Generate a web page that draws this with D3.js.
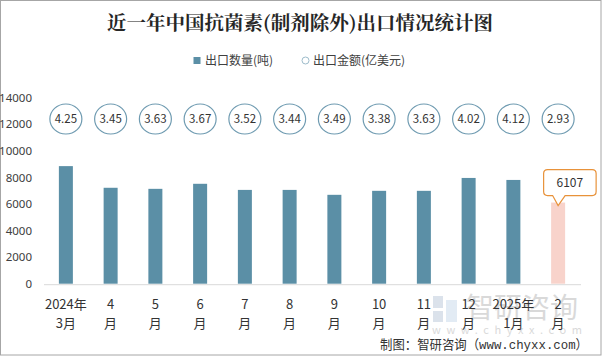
<!DOCTYPE html>
<html>
<head>
<meta charset="utf-8">
<script src="https://cdn.jsdelivr.net/npm/d3@7"></script>
<style>
  html, body { margin: 0; padding: 0; background: #fff; }
  svg { display: block; }
  text { font-family: "Microsoft YaHei", "Noto Sans CJK SC", "Noto Sans", sans-serif; }
</style>
</head>
<body>
<svg id="chart" width="602" height="356"></svg>
<script>
// ---- data ----
const categoriesTop = ["2024年", "4", "5", "6", "7", "8", "9", "10", "11", "12", "2025年", "2"];
const categoriesBottom = ["3月", "月", "月", "月", "月", "月", "月", "月", "月", "月", "1月", "月"];
const quantity = [8850, 7220, 7140, 7520, 7060, 7060, 6690, 6990, 6990, 7960, 7810, 6107];
const amount = [4.25, 3.45, 3.63, 3.67, 3.52, 3.44, 3.49, 3.38, 3.63, 4.02, 4.12, 2.93];
const yTicks = [0, 2000, 4000, 6000, 8000, 10000, 12000, 14000];
const highlightIndex = 11;
const title = "近一年中国抗菌素(制剂除外)出口情况统计图";
const legendLabels = ["出口数量(吨)", "出口金额(亿美元)"];
const sourceText = "制图：智研咨询（www.chyxx.com）";

// ---- layout ----
const W = 602, H = 356;
const plot = { left: 43.5, right: 580.5, top: 97.7, bottom: 283.7 };
const svg = d3.select("#chart");

svg.append("rect").attr("x", 0.5).attr("y", 0.5).attr("width", W - 1.5).attr("height", H - 1.5)
  .attr("fill", "#fff").attr("stroke", "#a6a6a6").attr("stroke-width", 1);

const idx = d3.range(categoriesTop.length);
const x = d3.scaleBand().domain(idx).range([plot.left, plot.right]).paddingInner(0).paddingOuter(0);
const y = d3.scaleLinear().domain([0, 14000]).range([plot.bottom, plot.top]);
const barW = 14;
const cx = i => x(i) + x.bandwidth() / 2;

// title
svg.append("text").attr("x", 300).attr("y", 30).attr("text-anchor", "middle")
  .attr("font-size", 19.5).attr("font-weight", "bold").attr("fill", "#262626")
  .style("font-family", "'Noto Serif CJK SC', 'Noto Sans CJK SC', serif")
  .text(title);

// legend
const lg = svg.append("g");
lg.append("rect").attr("x", 193.5).attr("y", 57).attr("width", 7).attr("height", 7).attr("fill", "#5b8fa6");
lg.append("text").attr("x", 205).attr("y", 65).attr("font-size", 12).attr("fill", "#404040").text(legendLabels[0]);
lg.append("circle").attr("cx", 305.5).attr("cy", 60.5).attr("r", 3.5).attr("fill", "#fff")
  .attr("stroke", "#9dbccb").attr("stroke-width", 1);
lg.append("text").attr("x", 313).attr("y", 65).attr("font-size", 12).attr("fill", "#404040").text(legendLabels[1]);

// y axis labels
const yAxis = d3.axisLeft(y).tickValues(yTicks).tickSize(0).tickPadding(0).tickFormat(d3.format("d"));
const yg = svg.append("g").attr("transform", "translate(32,0)").call(yAxis);
yg.select(".domain").remove();
yg.selectAll("text").attr("font-size", 11.5).attr("fill", "#404040")
  .style("font-family", "'Microsoft YaHei', 'Noto Sans', sans-serif");

// bars
svg.append("g").selectAll("rect").data(quantity).join("rect")
  .attr("x", (d, i) => cx(i) - barW / 2)
  .attr("y", d => y(d))
  .attr("width", barW)
  .attr("height", d => y(0) - y(d))
  .attr("fill", (d, i) => i === highlightIndex ? "#f8d3cb" : "#5b8fa6");

// baseline
const xAxis = d3.axisBottom(x).tickSize(0).tickFormat("");
const xg = svg.append("g").attr("transform", `translate(0,${plot.bottom + 0.5})`).call(xAxis);
xg.select(".domain").attr("stroke", "#d9d9d9").attr("stroke-width", 1);

// watermark (behind labels)
const wm = svg.append("g").attr("opacity", 0.5);
wm.append("rect").attr("x", 433).attr("y", 296).attr("width", 10).attr("height", 12).attr("fill", "#b8c6d8");
wm.append("rect").attr("x", 446).attr("y", 300).attr("width", 11).attr("height", 22).attr("fill", "#c6d9ea");
wm.append("rect").attr("x", 433).attr("y", 311).attr("width", 10).attr("height", 11).attr("fill", "#b8c6d8");
wm.append("text").attr("x", 466).attr("y", 318).attr("font-size", 28).attr("fill", "#b5b5b5").text("智研咨询");
wm.append("text").attr("x", 432).attr("y", 334).attr("font-size", 11).attr("fill", "#b5b5b5")
  .attr("textLength", 150).attr("lengthAdjust", "spacing").text("www.chyxx.com");

// x labels
const xl = svg.append("g");
xl.selectAll("text.top").data(categoriesTop).join("text").attr("class", "top")
  .attr("x", (d, i) => cx(i)).attr("y", 309).attr("text-anchor", "middle")
  .attr("font-size", 13).attr("fill", "#333").text(d => d);
xl.selectAll("text.bot").data(categoriesBottom).join("text").attr("class", "bot")
  .attr("x", (d, i) => cx(i)).attr("y", 328).attr("text-anchor", "middle")
  .attr("font-size", 13).attr("fill", "#333").text(d => d);

// amount circles
const cg = svg.append("g");
const circleY = 119;
cg.selectAll("ellipse").data(amount).join("ellipse")
  .attr("cx", (d, i) => cx(i)).attr("cy", circleY).attr("rx", 16).attr("ry", 15)
  .attr("fill", "#fff").attr("stroke", "#6f9bb1").attr("stroke-width", 1.2);
cg.selectAll("text").data(amount).join("text")
  .attr("x", (d, i) => cx(i)).attr("y", circleY + 4).attr("text-anchor", "middle")
  .attr("font-size", 11.5).attr("fill", "#333").text(d => d.toFixed(2));

// callout for highlighted bar
const tipX = cx(highlightIndex), tipY = y(quantity[highlightIndex]) + 3;
const bx0 = tipX - 14.5, bx1 = tipX + 38, by1 = tipY - 10, by0 = by1 - 26, r = 4;
const p = d3.path();
p.moveTo(bx0 + r, by0);
p.lineTo(bx1 - r, by0); p.quadraticCurveTo(bx1, by0, bx1, by0 + r);
p.lineTo(bx1, by1 - r); p.quadraticCurveTo(bx1, by1, bx1 - r, by1);
p.lineTo(tipX + 7, by1); p.lineTo(tipX, tipY); p.lineTo(tipX - 5.5, by1);
p.lineTo(bx0 + r, by1); p.quadraticCurveTo(bx0, by1, bx0, by1 - r);
p.lineTo(bx0, by0 + r); p.quadraticCurveTo(bx0, by0, bx0 + r, by0);
p.closePath();
svg.append("path").attr("d", p.toString()).attr("fill", "#fff").attr("stroke", "#e8923a").attr("stroke-width", 1.2);
svg.append("text").attr("x", (bx0 + bx1) / 2).attr("y", by0 + 17.5).attr("text-anchor", "middle")
  .attr("font-size", 12).attr("fill", "#333").text(d3.format("d")(quantity[highlightIndex]));

// source
svg.append("text").attr("x", 380).attr("y", 349)
  .attr("font-size", 13).attr("fill", "#333")
  .attr("textLength", 208).attr("lengthAdjust", "spacingAndGlyphs")
  .style("font-family", "'Liberation Mono', 'Noto Sans CJK SC', monospace")
  .text(sourceText);
</script>
</body>
</html>
